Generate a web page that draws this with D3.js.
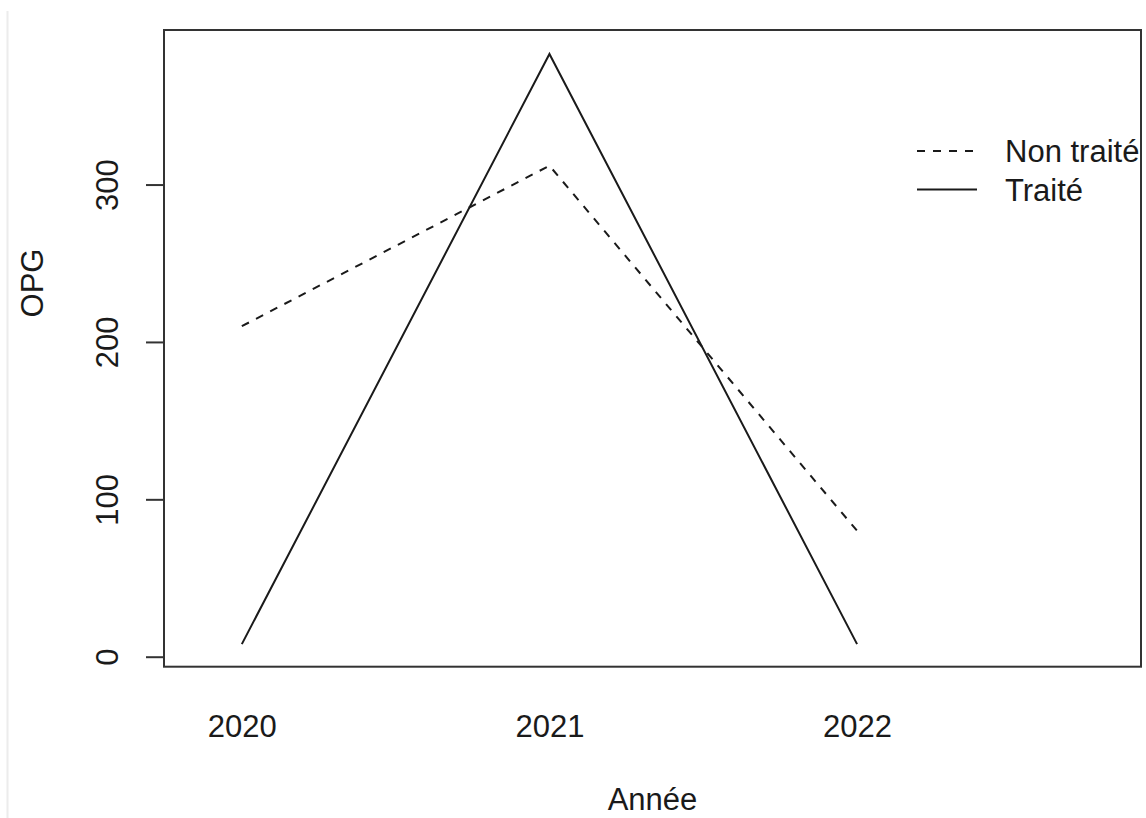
<!DOCTYPE html>
<html>
<head>
<meta charset="utf-8">
<script src="https://cdn.jsdelivr.net/npm/d3@7"></script>
<style>
  html, body { margin: 0; padding: 0; background: #fff; }
  svg { display: block; font-family: "Liberation Sans", Arial, Helvetica, sans-serif; }
</style>
</head>
<body>
<svg id="chart" width="1146" height="818"></svg>
<script>
// ---- data ----
const years = [2020, 2021, 2022];
const nonTraite = [210, 312, 80];
const traite = [8, 383, 8];
const yTicks = [0, 100, 200, 300];
const xTickLabels = ["2020", "2021", "2022"];
const seriesNames = ["Non traité", "Traité"];

// ---- layout ----
const W = 1146, H = 818;
const box = { left: 164, right: 1141, top: 30, bottom: 666.7 };
const svg = d3.select("#chart");

const x = d3.scaleLinear().domain([2019.747, 2022.923]).range([box.left, box.right]);
const y = d3.scaleLinear().domain([-6.35, 398.2]).range([box.bottom, box.top]);

const ink = "#1a1a1a";
const fs = 31;

// faint screenshot edge line
svg.append("line").attr("x1", 7.5).attr("x2", 7.5).attr("y1", 11).attr("y2", H)
  .attr("stroke", "#ececec").attr("stroke-width", 2);

// plot box
svg.append("rect")
  .attr("x", box.left).attr("y", box.top)
  .attr("width", box.right - box.left).attr("height", box.bottom - box.top)
  .attr("fill", "none").attr("stroke", "#333").attr("stroke-width", 2);

// y axis
const yAxis = d3.axisLeft(y).tickValues(yTicks).tickSize(18).tickPadding(0).tickFormat(d3.format("d"));
const gy = svg.append("g").attr("transform", `translate(${box.left},0)`).call(yAxis);
gy.select(".domain").remove();
gy.selectAll(".tick line").attr("stroke", "#333").attr("stroke-width", 2);
gy.selectAll(".tick text")
  .attr("x", 0).attr("dy", null).attr("dx", null)
  .attr("text-anchor", "middle")
  .attr("fill", ink)
  .attr("font-size", fs)
  .attr("font-family", "Liberation Sans, Arial, sans-serif")
  .attr("transform", function() { return "translate(" + (118 - box.left) + ",0) rotate(-90)"; });

// x axis labels (no tick marks)
const xAxis = d3.axisBottom(x).tickValues(years).tickSize(0).tickPadding(0)
  .tickFormat((d, i) => xTickLabels[i]);
const gx = svg.append("g").attr("transform", `translate(0,${box.bottom})`).call(xAxis);
gx.select(".domain").remove();
gx.selectAll(".tick line").remove();
gx.selectAll(".tick text")
  .attr("y", 737.3 - box.bottom).attr("dy", null)
  .attr("fill", ink)
  .attr("font-size", fs)
  .attr("font-family", "Liberation Sans, Arial, sans-serif");

// axis titles
svg.append("text").attr("x", (box.left + box.right) / 2).attr("y", 810)
  .attr("text-anchor", "middle").attr("font-size", fs).attr("fill", ink).text("Année");
svg.append("text").attr("transform", "translate(43,283) rotate(-90)")
  .attr("text-anchor", "middle").attr("font-size", fs).attr("fill", ink).text("OPG");

// lines
const line = d3.line().x(d => x(d[0])).y(d => y(d[1]));
svg.append("path").datum(years.map((yr, i) => [yr, nonTraite[i]]))
  .attr("d", line).attr("fill", "none").attr("stroke", ink)
  .attr("stroke-width", 2).attr("stroke-dasharray", "8,8");
svg.append("path").datum(years.map((yr, i) => [yr, traite[i]]))
  .attr("d", line).attr("fill", "none").attr("stroke", ink)
  .attr("stroke-width", 2);

// legend
const legY = [151, 189.5];
const dashes = ["8,8", null];
seriesNames.forEach((name, i) => {
  svg.append("line").attr("x1", 917).attr("x2", 977)
    .attr("y1", legY[i]).attr("y2", legY[i])
    .attr("stroke", ink).attr("stroke-width", 2)
    .attr("stroke-dasharray", dashes[i]);
  svg.append("text").attr("x", 1005).attr("y", legY[i] + 11)
    .attr("font-size", fs).attr("fill", ink).text(name);
});
</script>
</body>
</html>
